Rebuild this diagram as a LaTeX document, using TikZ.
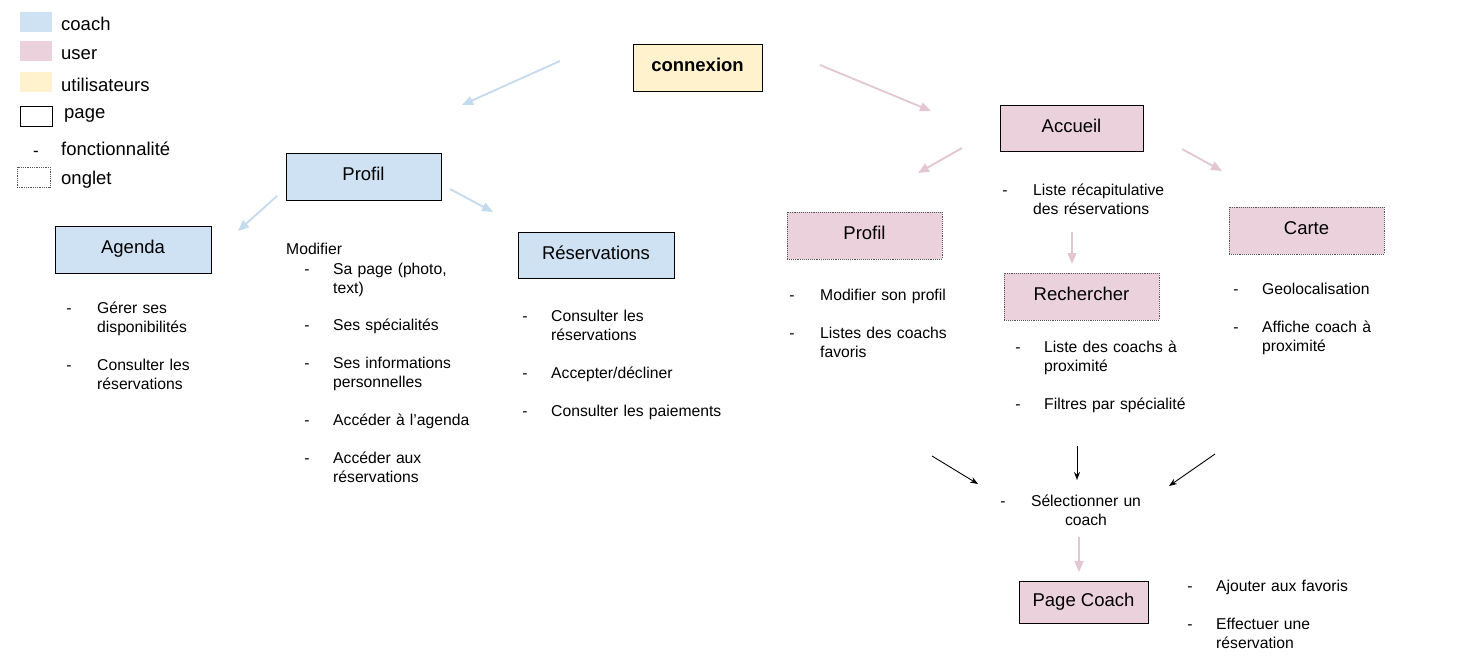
\documentclass[tikz,border=0pt]{standalone}
\usepackage{fontspec}
\setmainfont{Liberation Sans}
\usetikzlibrary{arrows.meta}
\definecolor{cblue}{HTML}{CFE2F3}
\definecolor{upink}{HTML}{EAD1DC}
\definecolor{uyellow}{HTML}{FFF2CC}
\definecolor{ablue}{HTML}{C4DAEE}
\definecolor{apink}{HTML}{E4C6D3}
\definecolor{dotgray}{HTML}{555555}
\begin{document}
\begin{tikzpicture}[x=1pt,y=-1pt,
  pagebox/.style={draw=black, line width=0.9pt, inner sep=0pt, text height=13pt, text depth=5pt, font=\fontsize{18.5}{22}\selectfont},
  tabbox/.style={draw=dotgray, densely dotted, line width=0.9pt, inner sep=0pt, text height=13pt, text depth=5pt, font=\fontsize{18.5}{22}\selectfont},
  swatch/.style={inner sep=0pt, minimum width=32pt, minimum height=20pt},
  lgtxt/.style={anchor=base west, inner sep=0pt, font=\fontsize{18.5}{22}\selectfont},
  itm/.style={anchor=base west, inner sep=0pt, font=\fontsize{15.7}{19}\selectfont, text width=230pt, align=left},
  dsh/.style={anchor=base, inner sep=0pt, font=\fontsize{15.7}{19}\selectfont},
  barrow/.style={draw=ablue, line width=1.8pt, -{Triangle[length=11pt,width=9pt]}},
  parrow/.style={draw=apink, line width=1.8pt, -{Triangle[length=11pt,width=9pt]}},
  karrow/.style={draw=black, line width=0.9pt, -{Stealth[length=8pt,width=6pt]}}
]
\useasboundingbox (0,0) rectangle (1469,659);
\fill[white] (0,0) rectangle (1469,659);

% Legend
\node[swatch, fill=cblue] (lgc) at (36,22) {};
\node[swatch, fill=upink] (lgu) at (36,50.5) {};
\node[swatch, fill=uyellow] (lgy) at (36,82) {};
\node[swatch, draw=black, line width=0.9pt] (lgp) at (36,116) {};
\node[dsh, font=\fontsize{17}{22}\selectfont] (lgd) at (36,156) {-};
\node[swatch, draw=dotgray, densely dotted, line width=0.8pt, minimum width=33pt] (lgo) at (33.5,177) {};
\node[lgtxt] (lgct) at (61,30) {coach};
\node[lgtxt] (lgut) at (61,59) {user};
\node[lgtxt] (lgyt) at (61,91) {utilisateurs};
\node[lgtxt] (lgpt) at (64,118) {page};
\node[lgtxt] (lgdt) at (61,155) {fonctionnalité};
\node[lgtxt] (lgot) at (61,184) {onglet};

% Boxes
\node[pagebox, fill=uyellow, minimum width=129pt, minimum height=47pt, font=\fontsize{18.5}{22}\selectfont\bfseries] (conn) at (697.5,67.5) {connexion};
\node[pagebox, fill=cblue, minimum width=155pt, minimum height=47pt] (cprof) at (363.5,176.5) {Profil};
\node[pagebox, fill=cblue, minimum width=156pt, minimum height=47pt] (agenda) at (133,249.5) {Agenda};
\node[pagebox, fill=cblue, minimum width=156pt, minimum height=46pt] (resa) at (596,255) {Réservations};
\node[pagebox, fill=upink, minimum width=143pt, minimum height=46pt] (accueil) at (1071.5,128) {Accueil};
\node[tabbox, fill=upink, minimum width=155pt, minimum height=47pt] (uprof) at (864.5,235.5) {Profil};
\node[tabbox, fill=upink, minimum width=155pt, minimum height=47pt] (rech) at (1081.5,296.5) {Rechercher};
\node[tabbox, fill=upink, minimum width=155pt, minimum height=47pt] (carte) at (1306.5,230.5) {Carte};
\node[pagebox, fill=upink, minimum width=129pt, minimum height=42pt] (pcoach) at (1083.5,602) {Page Coach};

% Agenda items
\node[dsh] (ad1) at (69,313) {-};
\node[itm] (at1) at (97,313) {Gérer ses\\disponibilités};
\node[dsh] (ad2) at (69,370) {-};
\node[itm] (at2) at (97,370) {Consulter les\\réservations};

% Profil coach items
\node[itm] (pmod) at (286,254) {Modifier};
\node[dsh] (pd1) at (307,274) {-};
\node[itm] (pt1) at (333,274) {Sa page (photo,\\text)};
\node[dsh] (pd2) at (307,330) {-};
\node[itm] (pt2) at (333,330) {Ses spécialités};
\node[dsh] (pd3) at (307,368) {-};
\node[itm] (pt3) at (333,368) {Ses informations\\personnelles};
\node[dsh] (pd4) at (307,425) {-};
\node[itm] (pt4) at (333,425) {Accéder à l’agenda};
\node[dsh] (pd5) at (307,463) {-};
\node[itm] (pt5) at (333,463) {Accéder aux\\réservations};

% Reservations items
\node[dsh] (rd1) at (525,321) {-};
\node[itm] (rt1) at (551,321) {Consulter les\\réservations};
\node[dsh] (rd2) at (525,378) {-};
\node[itm] (rt2) at (551,378) {Accepter/décliner};
\node[dsh] (rd3) at (525,416) {-};
\node[itm] (rt3) at (551,416) {Consulter les paiements};

% Accueil items
\node[dsh] (acd1) at (1005,195) {-};
\node[itm] (act1) at (1033,195) {Liste récapitulative\\des réservations};

% Profil user items
\node[dsh] (ud1) at (792,300) {-};
\node[itm] (ut1) at (820,300) {Modifier son profil};
\node[dsh] (ud2) at (792,338) {-};
\node[itm] (ut2) at (820,338) {Listes des coachs\\favoris};

% Rechercher items
\node[dsh] (sd1) at (1018,352) {-};
\node[itm] (st1) at (1044,352) {Liste des coachs à\\proximité};
\node[dsh] (sd2) at (1018,409) {-};
\node[itm] (st2) at (1044,409) {Filtres par spécialité};

% Carte items
\node[dsh] (kd1) at (1236,294) {-};
\node[itm] (kt1) at (1262,294) {Geolocalisation};
\node[dsh] (kd2) at (1236,332) {-};
\node[itm] (kt2) at (1262,332) {Affiche coach à\\proximité};

% Selectionner
\node[dsh] (seld) at (1003,506) {-};
\node[itm, anchor=base, text width=130pt, align=center] (selt) at (1086,506) {Sélectionner un\\coach};

% Page coach items
\node[dsh] (gd1) at (1190,591) {-};
\node[itm] (gt1) at (1216,591) {Ajouter aux favoris};
\node[dsh] (gd2) at (1190,629) {-};
\node[itm] (gt2) at (1216,629) {Effectuer une\\réservation};

% Arrow end points
\coordinate (b1s) at (560,61);  \coordinate (b1e) at (462,105);
\coordinate (b2s) at (277,196); \coordinate (b2e) at (238,231);
\coordinate (b3s) at (450,189); \coordinate (b3e) at (493,212);
\coordinate (p1s) at (820,65);  \coordinate (p1e) at (931,111);
\coordinate (p2s) at (962,148); \coordinate (p2e) at (918,173);
\coordinate (p3s) at (1182,149); \coordinate (p3e) at (1222,171);
\coordinate (p4s) at (1072,232); \coordinate (p4e) at (1072,264);
\coordinate (p5s) at (1079,537); \coordinate (p5e) at (1079,572);
\coordinate (k1s) at (932,456); \coordinate (k1e) at (978,484);
\coordinate (k2s) at (1077,446); \coordinate (k2e) at (1077,480);
\coordinate (k3s) at (1215,454); \coordinate (k3e) at (1169,486);

\draw[barrow] (b1s) -- (b1e);
\draw[barrow] (b2s) -- (b2e);
\draw[barrow] (b3s) -- (b3e);
\draw[parrow] (p1s) -- (p1e);
\draw[parrow] (p2s) -- (p2e);
\draw[parrow] (p3s) -- (p3e);
\draw[parrow] (p4s) -- (p4e);
\draw[parrow] (p5s) -- (p5e);
\draw[karrow] (k1s) -- (k1e);
\draw[karrow] (k2s) -- (k2e);
\draw[karrow] (k3s) -- (k3e);
\end{tikzpicture}
\end{document}
